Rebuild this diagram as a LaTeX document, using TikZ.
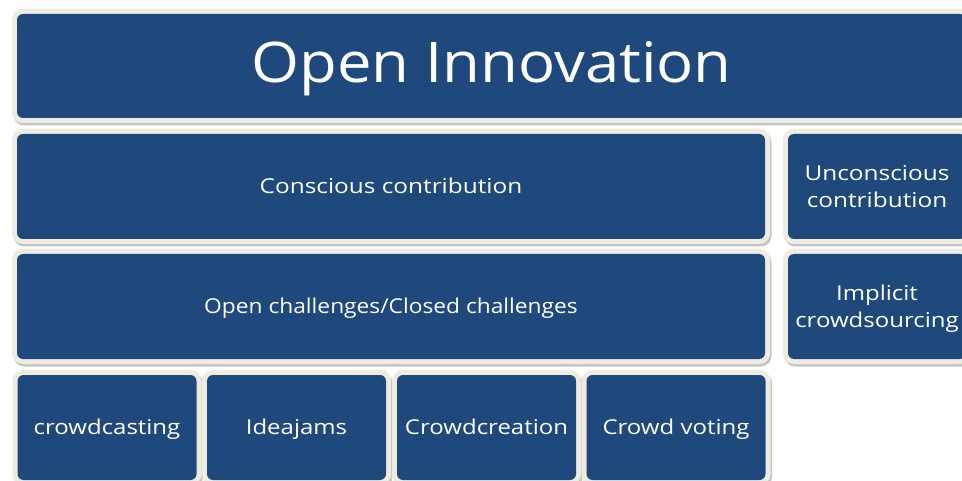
\documentclass[tikz,border=0pt]{standalone}
\usepackage{fontspec}
\usepackage{graphicx}
\setmainfont{Open Sans}
\definecolor{boxblue}{HTML}{1F497D}
\definecolor{frame}{HTML}{EEECE1}
\definecolor{shadowgray}{HTML}{C4C4C0}
\newcommand{\lbl}[3][1.17]{\raisebox{#2}[\height][\depth]{\scalebox{#1}[1]{\begin{tabular}{@{}c@{}}#3\end{tabular}}}}
\begin{document}
\begin{tikzpicture}[x=1pt,y=-1pt,
  blk/.style={rectangle, rounded corners=6pt, inner sep=0pt, outer sep=0pt,
    fill=boxblue, text=white, align=center,
    font=\fontsize{20.5}{26.5}\selectfont,
    preaction={draw=shadowgray, fill=shadowgray, line width=10pt, transform canvas={shift={(1.5pt,-2.5pt)}}},
    preaction={draw=frame, fill=frame, line width=10pt}},
  wide/.style={blk, minimum width=748pt, minimum height=105pt},
  side/.style={blk, minimum width=178pt, minimum height=105pt},
  small/.style={blk, minimum width=179pt, minimum height=105pt}]
\useasboundingbox[fill=white] (0,0) rectangle (962,481);
\node[blk, minimum width=949pt, minimum height=104pt, font=\fontsize{56}{56}\selectfont] (oi) at (491.5,66) {\lbl[1.1]{-4pt}{Open Innovation}};
\node[wide] (cc) at (391,186.5) {\lbl[1.19]{-2pt}{Conscious contribution}};
\node[side] (uc) at (877,186.5) {\lbl[1.19]{-2pt}{Unconscious\\contribution}};
\node[wide] (ocd) at (391,306.5) {\lbl[1.11]{-2pt}{Open challenges/Closed challenges}};
\node[side] (ic) at (877,306.5) {\lbl[1.17]{-2pt}{Implicit\\crowdsourcing}};
\node[small] (cw) at (107,427.5) {\lbl{-2pt}{crowdcasting}};
\node[small] (ij) at (296.5,427.5) {\lbl{-2pt}{Ideajams}};
\node[small] (cr) at (486.5,427.5) {\lbl{-2pt}{Crowdcreation}};
\node[small] (cv) at (676,427.5) {\lbl{-2pt}{Crowd voting}};
\end{tikzpicture}
\end{document}
